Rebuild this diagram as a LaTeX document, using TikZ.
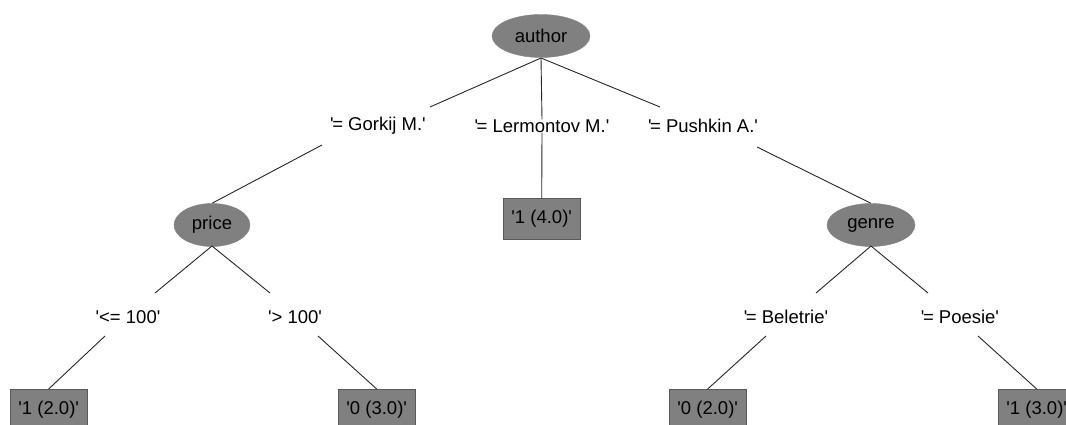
\documentclass[tikz,border=0pt]{standalone}
\usepackage{fontspec}
\setmainfont{Liberation Sans}
\usetikzlibrary{shapes.geometric}
\definecolor{nodegray}{RGB}{128,128,128}
\newcommand{\sq}{\textquotesingle}
\newcommand{\eqq}{\sq\kern-0.08em=}
\begin{document}
\begin{tikzpicture}[x=1pt,y=-1pt,
  inner/.style={ellipse,fill=nodegray,draw=nodegray,minimum width=#1,minimum height=43pt,inner sep=0pt,font=\fontsize{18.5}{22}\selectfont},
  leaf/.style={rectangle,fill=nodegray,draw=nodegray!70!black,minimum width=77pt,minimum height=41pt,anchor=north west,inner sep=0pt,font=\fontsize{18.5}{22}\selectfont},
  lbl/.style={inner sep=0pt,font=\fontsize{18.5}{22}\selectfont},
  edge/.style={draw=black!85,line width=0.9pt}]
\useasboundingbox (0,0) rectangle (1066,425);
\begin{scope}
\clip (0,0) rectangle (1066,425);
\node[inner=98pt] (author) at (541,36) {author};
\node[lbl] (gorkij) at (378,126) {\eqq\ Gorkij M.\sq};
\node[lbl] (lermontov) at (542,126) {\eqq\ Lermontov M.\sq};
\node[lbl] (pushkin) at (703,126) {\eqq\ Pushkin A.\sq};
\node[inner=76pt] (price) at (212,225) {price};
\node[inner=88pt] (genre) at (871,225) {genre};
\node[leaf] (l4) at (503,198) {\sq1 (4.0)\sq};
\node[lbl] (le100) at (128,317) {\sq<= 100\sq};
\node[lbl] (gt100) at (295,317) {\sq> 100\sq};
\node[lbl] (belet) at (786,317) {\eqq\ Beletrie\sq};
\node[lbl] (poes) at (960,317) {\eqq\ Poesie\sq};
\node[leaf] (l12) at (10,389) {\sq1 (2.0)\sq};
\node[leaf] (l03) at (338,389) {\sq0 (3.0)\sq};
\node[leaf] (l02) at (669,389) {\sq0 (2.0)\sq};
\node[leaf] (l13) at (998,389) {\sq1 (3.0)\sq};
\coordinate (aB) at (541,58);
\coordinate (gT) at (430,107);
\coordinate (pT) at (660,107);
\draw[edge] (aB) -- (gT);
\draw[edge] (aB) -- (lermontov.north);
\draw[edge] (aB) -- (pT);
\coordinate (gB) at (322,145);
\coordinate (pB) at (757,147);
\draw[edge] (gB) -- (price.north);
\draw[edge] (lermontov.south) -- (l4.north);
\draw[edge] (pB) -- (genre.north);
\coordinate (prB) at (212,246);
\coordinate (leT) at (155,293);
\coordinate (gtT) at (270,293);
\draw[edge] (prB) -- (leT);
\draw[edge] (prB) -- (gtT);
\coordinate (geB) at (871,246);
\coordinate (beT) at (816,293);
\coordinate (poT) at (928,293);
\draw[edge] (geB) -- (beT);
\draw[edge] (geB) -- (poT);
\coordinate (leB) at (105,336);
\coordinate (gtB) at (318,336);
\coordinate (beB) at (766,336);
\coordinate (poB) at (978,336);
\draw[edge] (leB) -- (l12.north);
\draw[edge] (gtB) -- (l03.north);
\draw[edge] (beB) -- (l02.north);
\draw[edge] (poB) -- (l13.north);
\end{scope}
\end{tikzpicture}
\end{document}
